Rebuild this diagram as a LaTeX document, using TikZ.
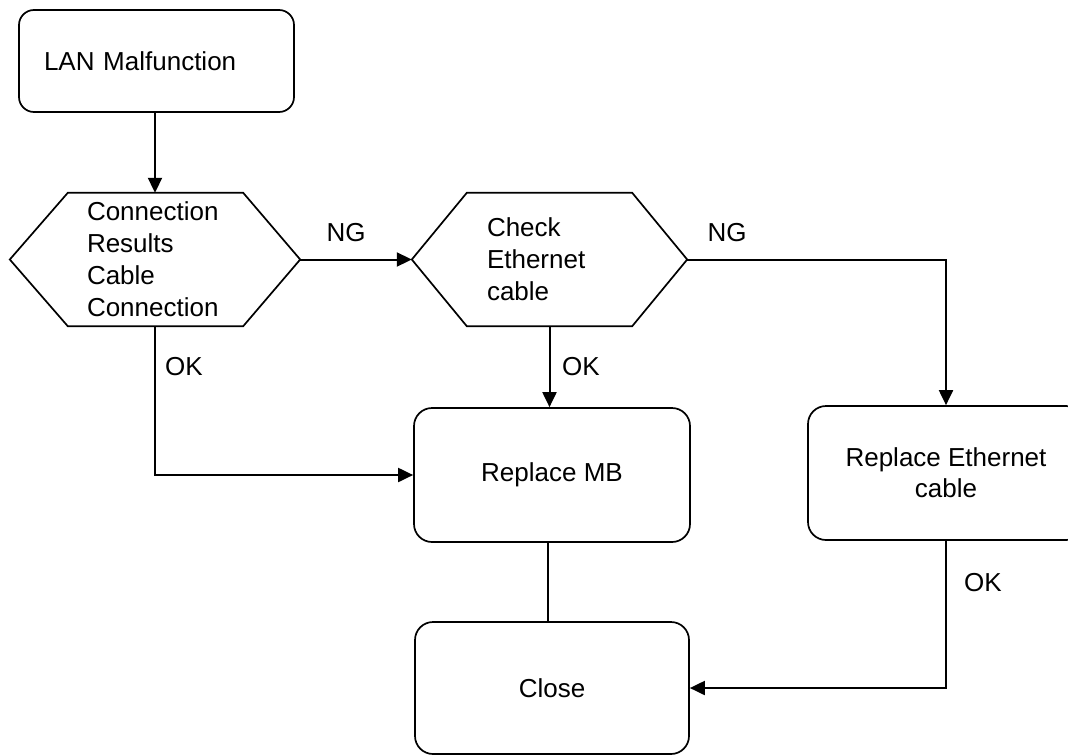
\documentclass[tikz,border=0pt]{standalone}
\usepackage{fontspec}
\setmainfont{Liberation Sans}
\usetikzlibrary{arrows.meta}
\tikzset{
  lbl/.style={font=\fontsize{26}{32}\selectfont, inner sep=0pt},
  rbox/.style={draw, line width=1.7pt, rounded corners=18pt, inner sep=0pt, align=center, font=\fontsize{26}{31}\selectfont},
  hexnode/.style={inner sep=0pt, align=left, font=\fontsize{26}{32}\selectfont},
  hexline/.style={line width=1.7pt, line join=miter},
  conn/.style={line width=2pt},
  thinconn/.style={line width=1.5pt},
  arr/.style={conn, -{Triangle[length=15pt,width=14pt]}}
}
\begin{document}
\begin{tikzpicture}[x=1pt,y=-1pt]
\useasboundingbox (0,0) rectangle (1068,755);
\clip (0,0) rectangle (1068,755);
% nodes
\node[rbox, rounded corners=15pt, minimum width=275pt, minimum height=102pt, text width=225pt, align=left] (lan) at (156.5,61) {LAN Malfunction};
\node[hexnode, minimum width=290pt, minimum height=133pt, text width=136pt] (h1) at (155,259.5) {Connection\\Results\\Cable\\Connection};
\node[hexnode, minimum width=275pt, minimum height=133pt, text width=125pt] (h2) at (549.5,259.5) {Check\\Ethernet\\cable};
\node[rbox, minimum width=276pt, minimum height=134pt] (mb) at (552,475) {Replace MB};
\node[rbox, minimum width=276pt, minimum height=134pt] (ret) at (946,473) {Replace Ethernet\\cable};
\node[rbox, minimum width=274pt, minimum height=132pt] (close) at (552,688) {Close};
% hexagon outlines
\draw[hexline] (h1.west) -- ([xshift=58pt]h1.north west) -- ([xshift=-57pt]h1.north east) -- (h1.east) -- ([xshift=-57pt]h1.south east) -- ([xshift=58pt]h1.south west) -- cycle;
\draw[hexline] (h2.west) -- ([xshift=55pt]h2.north west) -- ([xshift=-55pt]h2.north east) -- (h2.east) -- ([xshift=-55pt]h2.south east) -- ([xshift=55pt]h2.south west) -- cycle;
% connectors
\draw[arr] (lan.south -| h1.north) -- (h1.north);
\draw[arr] (h1.east) -- (h2.west);
\draw[arr] (h2.east) -| (ret.north);
\draw[arr] (h1.south) |- (mb.west);
\draw[arr] (h2.south) -- (h2.south |- mb.north);
\draw[thinconn] ([xshift=-1.5pt]h2.south |- mb.south) -- ([xshift=-1.5pt]h2.south |- close.north);
\draw[arr] (ret.south) |- (close.east);
% labels
\node[lbl] (ng1) at (346,233) {NG};
\node[lbl] (ng2) at (727,233) {NG};
\node[lbl] (ok1) at (184,367) {OK};
\node[lbl] (ok2) at (581,367) {OK};
\node[lbl] (ok3) at (983,583) {OK};
\end{tikzpicture}
\end{document}
